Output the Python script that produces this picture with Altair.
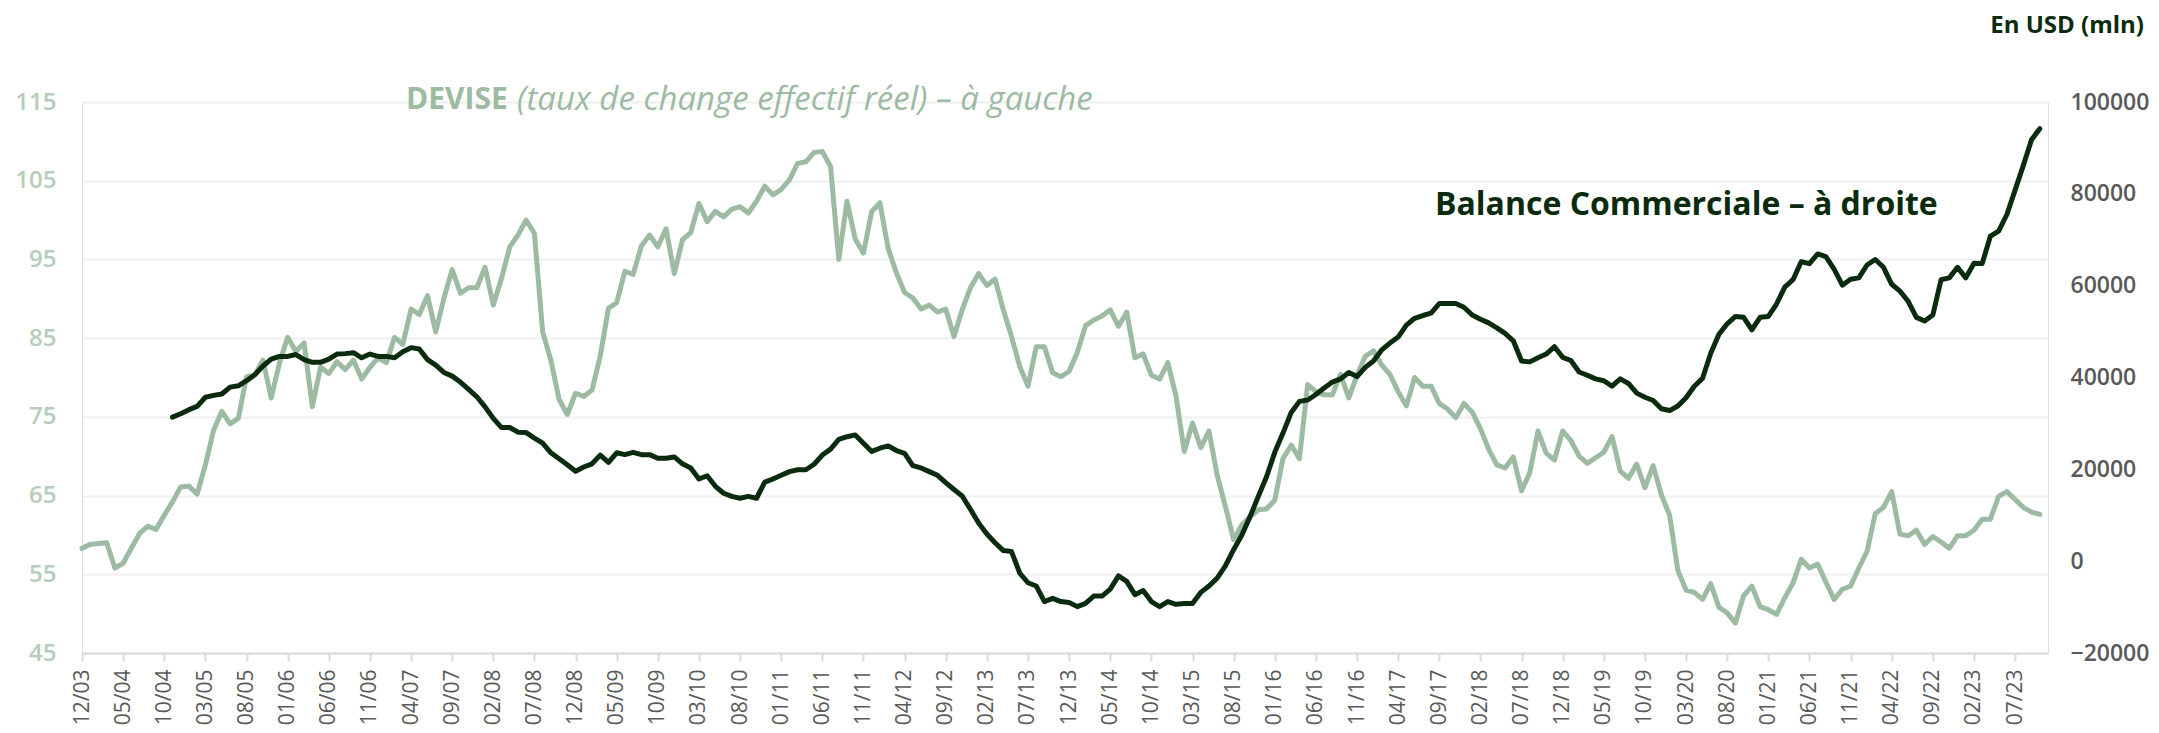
import json
import altair as alt
import pandas as pd

# x tick labels (one every 5 months, first month = 12/03)
tick_labels = ["12/03", "05/04", "10/04", "03/05", "08/05", "01/06", "06/06", "11/06",
               "04/07", "09/07", "02/08", "07/08", "12/08", "05/09", "10/09", "03/10",
               "08/10", "01/11", "06/11", "11/11", "04/12", "09/12", "02/13", "07/13",
               "12/13", "05/14", "10/14", "03/15", "08/15", "01/16", "06/16", "11/16",
               "04/17", "09/17", "02/18", "07/18", "12/18", "05/19", "10/19", "03/20",
               "08/20", "01/21", "06/21", "11/21", "04/22", "09/22", "02/23", "07/23"]
tick_step = 5
n_months = 240

# DEVISE (taux de change effectif réel) - monthly, from 12/03
devise = [58.3, 58.8, 58.9, 59.0, 55.8, 56.4, 58.3, 60.2, 61.1, 60.7,
          62.5, 64.2, 66.1, 66.2, 65.2, 68.9, 73.3, 75.7, 74.1, 74.8,
          80.1, 80.3, 82.2, 77.4, 81.8, 85.1, 83.3, 84.4, 76.3, 81.3,
          80.5, 82.0, 81.0, 82.2, 79.8, 81.3, 82.5, 81.9, 85.1, 84.2,
          88.7, 88.0, 90.4, 85.8, 90.1, 93.7, 90.7, 91.4, 91.4, 94.0,
          89.2, 92.6, 96.6, 98.1, 100.0, 98.3, 85.8, 82.2, 77.2, 75.3,
          78.0, 77.6, 78.4, 82.7, 88.8, 89.5, 93.5, 93.1, 96.7, 98.1,
          96.6, 98.9, 93.2, 97.5, 98.4, 102.1, 99.8, 101.1, 100.4, 101.4,
          101.7, 100.9, 102.4, 104.3, 103.2, 103.9, 105.1, 107.2, 107.4, 108.6,
          108.7, 106.8, 95.0, 102.4, 97.6, 95.8, 101.1, 102.2, 96.4, 93.3,
          90.8, 90.1, 88.7, 89.2, 88.3, 88.7, 85.2, 88.6, 91.4, 93.2,
          91.7, 92.5, 88.6, 85.2, 81.4, 78.9, 83.9, 83.9, 80.6, 80.1,
          80.8, 83.2, 86.6, 87.3, 87.8, 88.6, 86.5, 88.3, 82.5, 83.0,
          80.3, 79.8, 81.9, 77.6, 70.6, 74.2, 71.1, 73.2, 67.6, 63.6,
          59.4, 61.3, 62.3, 63.2, 63.3, 64.4, 69.7, 71.4, 69.7, 79.1,
          78.2, 77.8, 77.8, 80.4, 77.4, 80.3, 82.7, 83.4, 81.6, 80.4,
          78.2, 76.4, 80.0, 78.9, 78.9, 76.7, 76.0, 74.9, 76.7, 75.6,
          73.5, 70.9, 68.9, 68.5, 69.9, 65.6, 67.9, 73.2, 70.4, 69.5,
          73.2, 72.0, 70.0, 69.1, 69.8, 70.5, 72.5, 68.1, 67.2, 69.0,
          66.0, 68.8, 65.1, 62.5, 55.5, 53.0, 52.7, 51.8, 53.8, 50.8,
          50.1, 48.8, 52.3, 53.5, 50.9, 50.5, 49.9, 52.0, 53.9, 56.9,
          55.8, 56.3, 54.0, 51.8, 53.1, 53.5, 55.8, 57.9, 62.7, 63.5,
          65.5, 60.1, 59.9, 60.6, 58.8, 59.8, 59.1, 58.3, 59.9, 59.9,
          60.6, 62.0, 62.0, 64.9, 65.5, 64.5, 63.5, 62.9, 62.6]

# Balance Commerciale (USD mln) - monthly, starts 11 months after 12/03
balance_start = 11
balance = [31360, 32100, 33000, 33700, 35700, 36100, 36400, 37900, 38200,
           39300, 40600, 42500, 44000, 44600, 44600, 45000, 43900, 43300, 43300,
           44000, 45100, 45200, 45400, 44300, 45100, 44600, 44600, 44300, 45600,
           46500, 46200, 43900, 42700, 41100, 40300, 39000, 37400, 35800, 33600,
           31100, 29100, 29100, 28100, 28000, 26800, 25700, 23600, 22300, 21000,
           19600, 20500, 21200, 23100, 21500, 23600, 23200, 23700, 23200, 23200,
           22400, 22400, 22700, 21200, 20300, 17900, 18600, 16300, 14800, 14100,
           13700, 14100, 13700, 17200, 17900, 18700, 19500, 19900, 19900, 21100,
           23100, 24400, 26500, 27100, 27500, 25700, 23900, 24600, 25100, 24100,
           23500, 20800, 20300, 19500, 18700, 17100, 15600, 14200, 11300, 8300,
           5900, 4000, 2300, 2100, -2600, -4700, -5400, -8800, -8100, -8800,
           -9000, -9900, -9200, -7600, -7600, -6100, -3200, -4400, -7300, -6400,
           -8800, -9900, -8800, -9400, -9200, -9200, -6800, -5400, -3700, -1000,
           2500, 5700, 9700, 14100, 18400, 23700, 27900, 32400, 34800, 35100,
           36300, 37700, 39000, 39700, 41100, 40200, 42200, 43600, 46000, 47500,
           48800, 51400, 52900, 53500, 54000, 56100, 56100, 56100, 55300, 53600,
           52700, 51900, 50800, 49600, 48000, 43600, 43400, 44300, 45100, 46700,
           44400, 43700, 41200, 40500, 39700, 39300, 38100, 39700, 38700, 36600,
           35700, 35000, 33200, 32800, 33800, 35600, 38100, 39800, 45300, 49400,
           51700, 53300, 53100, 50400, 53100, 53300, 56000, 59700, 61300, 65200,
           64800, 66900, 66300, 63600, 60100, 61400, 61700, 64500, 65700, 64000,
           60300, 58800, 56600, 53100, 52300, 53600, 61300, 61700, 64000, 61700,
           64900, 64800, 70800, 71900, 75500, 80800, 86200, 91800, 94200]

left_ticks = [45, 55, 65, 75, 85, 95, 105, 115]
right_ticks = [-20000, 0, 20000, 40000, 60000, 80000, 100000]

LIGHT = "#9dbaa2"
DARK = "#0a2b0d"
GREY = "#595959"

df_dev = pd.DataFrame({"m": list(range(len(devise))), "v": devise})
df_bal = pd.DataFrame({"m": list(range(balance_start, balance_start + len(balance))), "v": balance})

x_enc = alt.X(
    "m:Q",
    scale=alt.Scale(domain=[0, n_months - 1], nice=False, zero=False),
    axis=alt.Axis(
        values=list(range(0, tick_step * len(tick_labels), tick_step)),
        labelExpr=json.dumps(tick_labels) + "[round(datum.value / %d)]" % tick_step,
        labelAngle=-90, labelFont="Open Sans", labelFontSize=21, labelColor=GREY,
        labelPadding=8, tickSize=8, tickColor="#d9d9d9", tickWidth=2,
        domainColor="#d9d9d9", domainWidth=2, grid=False, title=None,
        labelOverlap=False, labelBound=False, labelFlush=False,
    ),
)

dev_line = alt.Chart(df_dev).mark_line(
    color=LIGHT, strokeWidth=5, strokeJoin="round", strokeCap="round"
).encode(
    x=x_enc,
    y=alt.Y("v:Q", scale=alt.Scale(domain=[45, 115], nice=False, zero=False),
            axis=alt.Axis(values=left_ticks, orient="left", grid=True, gridColor="#efefef",
                          gridWidth=2, domain=False, ticks=False, labelColor="#b7ccba",
                          labelFont="Open Sans", labelFontSize=24, labelFontWeight=600,
                          labelPadding=26, title=None)),
)

bal_line = alt.Chart(df_bal).mark_line(
    color=DARK, strokeWidth=5, strokeJoin="round", strokeCap="round"
).encode(
    x=x_enc,
    y=alt.Y("v:Q", scale=alt.Scale(domain=[-20000, 100000], nice=False, zero=False),
            axis=alt.Axis(values=right_ticks, orient="right", grid=False, domain=False,
                          ticks=False, format="d", labelColor=GREY, labelFont="Open Sans",
                          labelFontSize=23, labelFontWeight=600, labelPadding=22, title=None)),
)

one = pd.DataFrame({"t": [""]})

t_dev1 = alt.Chart(one).mark_text(
    align="left", baseline="middle", font="Open Sans", fontSize=30, fontWeight="bold", color=LIGHT
).encode(x=alt.value(324), y=alt.value(-2), text=alt.value("DEVISE"))
t_dev2 = alt.Chart(one).mark_text(
    align="left", baseline="middle", font="Open Sans", fontSize=33, fontStyle="italic", color=LIGHT
).encode(x=alt.value(435), y=alt.value(-2), text=alt.value("(taux de change effectif réel) – à gauche"))
t_bal = alt.Chart(one).mark_text(
    align="left", baseline="middle", font="Open Sans", fontSize=32, fontWeight="bold", color=DARK
).encode(x=alt.value(1353), y=alt.value(103), text=alt.value("Balance Commerciale – à droite"))
t_usd = alt.Chart(one).mark_text(
    align="right", baseline="middle", font="Open Sans", fontSize=24, fontWeight="bold", color=DARK
).encode(x=alt.value(2062), y=alt.value(-76), text=alt.value("En USD (mln)"))

chart = alt.layer(dev_line, bal_line, t_dev1, t_dev2, t_bal, t_usd).resolve_scale(
    y="independent"
).properties(
    width=1966, height=551,
    autosize=alt.AutoSizeParams(type="none"),
    padding={"left": 74, "top": 94, "right": 103, "bottom": 72},
).configure_view(stroke=None).configure(background="white")

chart.save("out.html", embed_options={"renderer": "svg", "actions": False})
